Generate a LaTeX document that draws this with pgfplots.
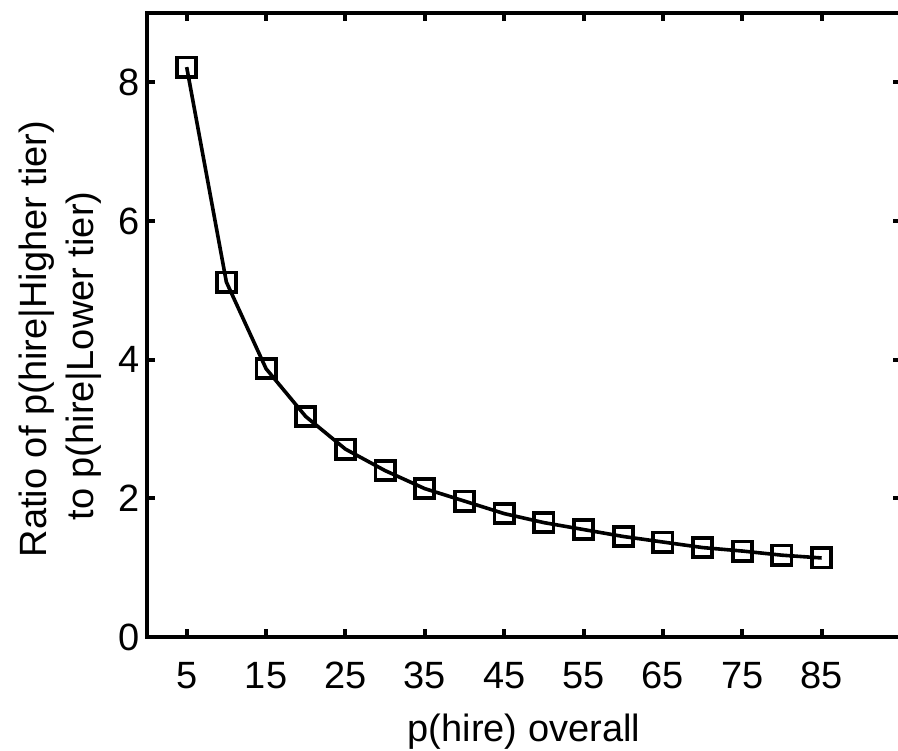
\documentclass[border=0pt]{standalone}
\usepackage{fontspec}
\setmainfont{Liberation Sans}
\usepackage{pgfplots}
\pgfplotsset{compat=1.18}

\begin{document}
\begin{tikzpicture}
  \begin{axis}[
      at={(0,0)}, anchor=south west,
      scale only axis, width=377pt, height=312pt,
      xmin=0, xmax=95, ymin=0, ymax=9,
      xtick={5,15,...,85}, ytick={0,2,...,8},
      tick align=inside, major tick length=4pt,
      axis line style={line width=2pt},
      every tick/.style={black, line width=2pt},
      font=\fontsize{19}{23.5}\selectfont,
      /pgf/number format/assume math mode=true,
      xticklabel style={yshift=-9pt},
      xlabel={p(hire) overall},
      xlabel style={yshift=-5.5pt},
      ylabel={Ratio of p(hire\textbar Higher tier)\hspace*{14pt}\\to p(hire\textbar Lower tier)\hspace*{31pt}},
      ylabel style={align=center, yshift=2pt},
    ]
    \addplot[black, line width=1.8pt, mark=square, mark size=4.8pt,
             mark options={line width=1.9pt, solid}]
      coordinates {
        (5,8.22) (10,5.12) (15,3.87) (20,3.18) (25,2.71) (30,2.40)
        (35,2.14) (40,1.96) (45,1.78) (50,1.65) (55,1.55) (60,1.45)
        (65,1.37) (70,1.29) (75,1.24) (80,1.18) (85,1.14)
      };
  \end{axis}
  \pgfresetboundingbox
  \path (-73.5pt,-56.5pt) rectangle (375.5pt,318.5pt);
\end{tikzpicture}
\end{document}
